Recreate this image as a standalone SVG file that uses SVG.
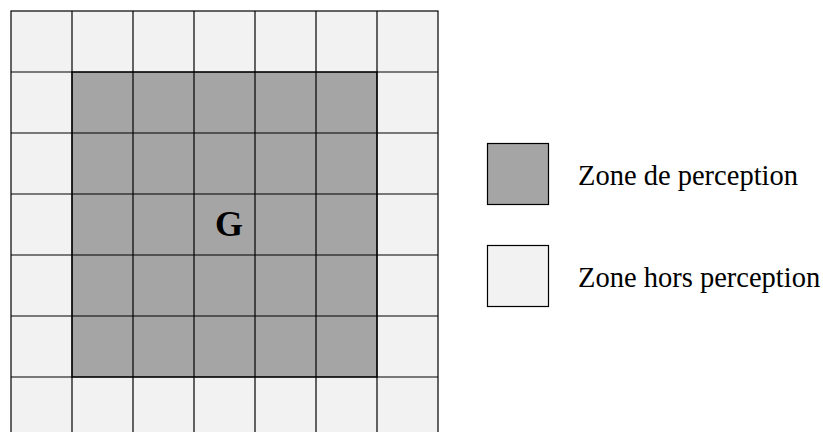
<svg xmlns="http://www.w3.org/2000/svg" width="823" height="432" viewBox="0 0 823 432">
<style>
.l{fill:#f2f2f2;stroke:#000;stroke-width:1.2}
.d{fill:#a5a5a5;stroke:#000;stroke-width:1.2}
.t{font-family:"Liberation Serif",serif;font-size:28.5px;fill:#000}
.g{font-family:"Liberation Serif",serif;font-size:36px;font-weight:bold;fill:#000}
</style>
<g id="grid">
<rect x="11" y="11" width="427" height="427" class="l"/>
<rect x="72" y="72" width="305" height="305" class="d"/>
<g stroke="#000" stroke-width="1.2">
<line x1="72" y1="11" x2="72" y2="438"/>
<line x1="133" y1="11" x2="133" y2="438"/>
<line x1="194" y1="11" x2="194" y2="438"/>
<line x1="255" y1="11" x2="255" y2="438"/>
<line x1="316" y1="11" x2="316" y2="438"/>
<line x1="377" y1="11" x2="377" y2="438"/>
<line x1="11" y1="72" x2="438" y2="72"/>
<line x1="11" y1="133" x2="438" y2="133"/>
<line x1="11" y1="194" x2="438" y2="194"/>
<line x1="11" y1="255" x2="438" y2="255"/>
<line x1="11" y1="316" x2="438" y2="316"/>
<line x1="11" y1="377" x2="438" y2="377"/>
</g>
<text x="229" y="235.5" text-anchor="middle" class="g">G</text>
</g>
<g id="legend-perception">
<rect x="487.5" y="143.5" width="61" height="61" class="d"/>
<text x="578" y="184.5" class="t">Zone de perception</text>
</g>
<g id="legend-hors">
<rect x="487.5" y="245.5" width="61" height="61" class="l"/>
<text x="578" y="286.5" class="t">Zone hors perception</text>
</g>
</svg>
